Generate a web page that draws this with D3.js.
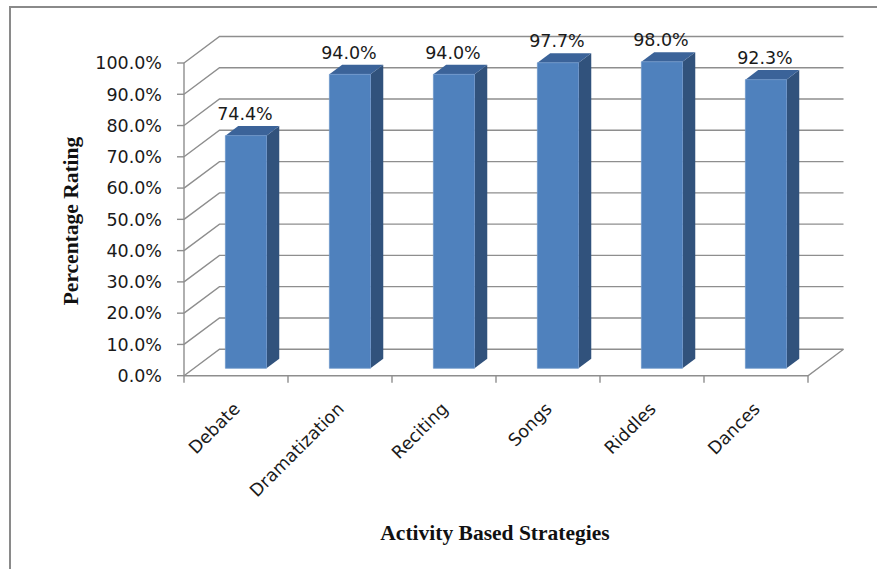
<!DOCTYPE html>
<html><head><meta charset="utf-8">
<script src="https://cdn.jsdelivr.net/npm/d3@7"></script>
<style>body{margin:0;background:#fff}svg{display:block}</style>
</head><body><svg id="c" width="877" height="569"></svg>
<script>
const categories = ["Debate","Dramatization","Reciting","Songs","Riddles","Dances"];
const values = [74.4,94.0,94.0,97.7,98.0,92.3];
const yTicks = [0,10,20,30,40,50,60,70,80,90,100];

const svg = d3.select("#c");
const W=877,H=569;
const DX=35.5, DY=-26.5;
const x = d3.scaleBand().domain(categories).range([184,808]);
const y = d3.scaleLinear().domain([0,100]).range([375.7,63]);
const P = (px,v,z)=>[px+z*DX, y(v)+z*DY];
const grid="#8e8e8e";
const FS=17.5;

// frame
svg.append("path").attr("d",`M10,${H} L10,7 L${W},7`).attr("fill","none").attr("stroke","#8a8a8a").attr("stroke-width",2);

const g=svg.append("g");
yTicks.forEach(t=>{
  const a=P(184,t,0), b=P(184,t,1), c=P(808,t,1);
  g.append("path").attr("d",`M${a}L${b}L${c}`).attr("fill","none").attr("stroke",grid).attr("stroke-width",1.4);
  g.append("line").attr("x1",177).attr("x2",184).attr("y1",y(t)).attr("y2",y(t)).attr("stroke",grid).attr("stroke-width",1.4);
  g.append("text").attr("x",162).attr("y",y(t)).attr("dy","0.36em").attr("text-anchor","end")
    .attr("font-family","DejaVu Sans").attr("font-size",FS).attr("fill","#1a1a1a").text(t.toFixed(1)+"%");
});
{
  const a=P(184,0,0), b=P(808,0,0), c=P(808,0,1);
  g.append("path").attr("d",`M${a}L${b}L${c}`).attr("fill","none").attr("stroke",grid).attr("stroke-width",1.4);
}
g.append("line").attr("x1",184).attr("x2",184).attr("y1",y(0)).attr("y2",y(100)).attr("stroke",grid).attr("stroke-width",1.4);
const bounds = categories.map(c=>x(c)).concat([808]);
bounds.forEach(b=>{
  g.append("line").attr("x1",b).attr("x2",b).attr("y1",y(0)).attr("y2",y(0)+7).attr("stroke",grid).attr("stroke-width",1.4);
});

const z0=0.28, z1=0.64;
const bw=x.bandwidth(), barW=bw*0.395;
categories.forEach((c,i)=>{
  const v=values[i];
  const xl=x(c)+(bw-barW)/2, xr=xl+barW;
  const fTL=P(xl,v,z0), fTR=P(xr,v,z0), fBR=P(xr,0,z0), fBL=P(xl,0,z0);
  const bTL=P(xl,v,z1), bTR=P(xr,v,z1), bBR=P(xr,0,z1);
  g.append("path").attr("d",`M${fTR}L${bTR}L${bBR}L${fBR}Z`).attr("fill","#31527c");
  g.append("path").attr("d",`M${fTL}L${bTL}L${bTR}L${fTR}Z`).attr("fill","#3b6399");
  g.append("path").attr("d",`M${fTL}L${fTR}L${fBR}L${fBL}Z`).attr("fill","#4f81bd").attr("stroke","#6d97cb").attr("stroke-width",0.8);
  g.append("text").attr("x",(xl+xr)/2+z0*DX-1).attr("y",bTL[1]-6).attr("text-anchor","middle")
    .attr("font-family","DejaVu Sans").attr("font-size",FS).attr("fill","#1a1a1a").text(v.toFixed(1)+"%");
  const cx=x(c)+bw/2+5, cy=410;
  g.append("text").attr("transform",`translate(${cx},${cy}) rotate(-45)`).attr("text-anchor","end")
    .attr("font-family","DejaVu Sans").attr("font-size",FS).attr("fill","#1a1a1a").text(c);
});

svg.append("text").attr("transform","translate(78,221) rotate(-90)").attr("text-anchor","middle")
  .attr("font-family","Liberation Serif").attr("font-weight","bold").attr("font-size",21.5).attr("fill","#111").text("Percentage Rating");
svg.append("text").attr("x",495).attr("y",540).attr("text-anchor","middle")
  .attr("font-family","Liberation Serif").attr("font-weight","bold").attr("font-size",21.5).attr("fill","#111").text("Activity Based Strategies");
</script></body></html>
